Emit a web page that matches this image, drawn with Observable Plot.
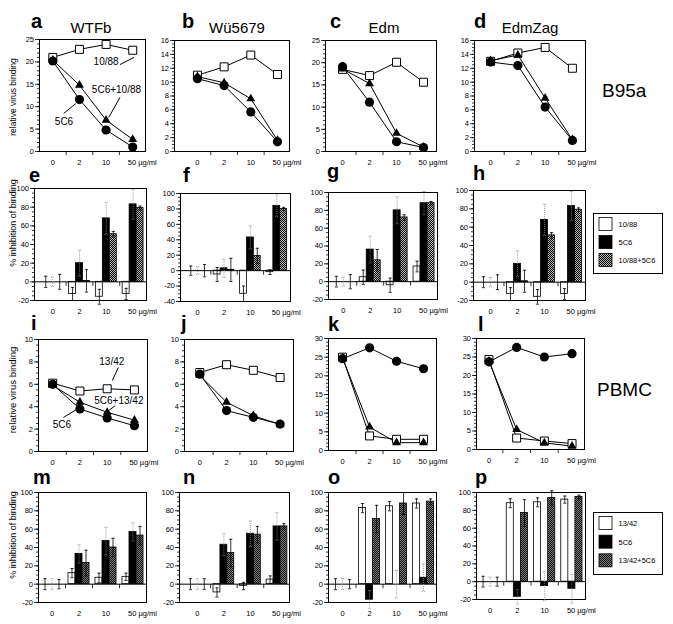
<!DOCTYPE html>
<html><head><meta charset="utf-8">
<script src="https://cdn.jsdelivr.net/npm/d3@7"></script>
<script src="https://cdn.jsdelivr.net/npm/@observablehq/plot@0.6"></script>
<style>
body{margin:0;background:#fff;font-family:"Liberation Sans",Arial,sans-serif;}
#fig{position:relative;width:673px;height:624px;overflow:hidden;background:#fff;}
</style></head><body>
<svg width="0" height="0" style="position:absolute">
<defs>
<pattern id="hatch1" width="2" height="2" patternUnits="userSpaceOnUse">
<rect width="2" height="2" fill="#b8b8b8"/><rect width="1" height="1" fill="#000"/><rect x="1" y="1" width="1" height="1" fill="#000"/>
</pattern>
<pattern id="hatch2" width="2" height="2" patternUnits="userSpaceOnUse">
<rect width="2" height="2" fill="#7a7a7a"/><rect width="1" height="1" fill="#151515"/><rect x="1" y="1" width="1" height="1" fill="#151515"/>
</pattern>
</defs></svg>
<div id="fig"></div>
<script>
// ---------- categories ----------
const doses = ["0", "2", "10", "50"];
const unit = " µg/ml";
const legend1Labels = ["10/88", "5C6", "10/88+5C6"];
const legend2Labels = ["13/42", "5C6", "13/42+5C6"];
const fills1 = ["white", "black", "url(#hatch1)"];
const fills2 = ["white", "black", "url(#hatch2)"];

// ---------- row 1: B95a, relative virus binding (square=10/88, circle=5C6, triangle=5C6+10/88) ----------
const a_sq = [21.0, 22.8, 23.9, 22.6], a_ci = [20.2, 11.6, 4.8, 1.0], a_tr = [20.4, 14.8, 7.0, 2.7];
const b_sq = [11.0, 12.2, 13.9, 11.1], b_ci = [10.5, 9.5, 5.7, 1.4], b_tr = [10.8, 9.9, 7.6, 1.6];
const c_sq = [18.5, 17.1, 20.1, 15.6], c_ci = [19.1, 11.1, 2.2, 0.9], c_tr = [18.6, 15.3, 4.1, 1.0];
const d_sq = [13.0, 14.2, 15.0, 12.0], d_ci = [12.9, 12.4, 6.4, 1.6], d_tr = [13.1, 13.9, 7.7, 1.7];

// ---------- row 2: B95a, % inhibition (white=10/88, black=5C6, hatched=10/88+5C6) ----------
const e_w = [0, -13, -16, -13], e_we = [6, 7, 8, 6];
const e_b = [0, 20, 68, 83],    e_be = [5, 14, 17, 16];
const e_h = [0, 1, 51, 79],     e_he = [8, 12, 3, 2];
const f_w = [0, -5, -30, -2],   f_we = [6, 9, 10, 3];
const f_b = [0, 3, 43, 84],     f_be = [5, 12, 15, 14];
const f_h = [0, 1, 19, 80],     f_he = [8, 15, 10, 2];
const g_w = [0, 5, -4, 17],     g_we = [6, 8, 8, 6];
const g_b = [0, 36, 80, 88],    g_be = [5, 15, 15, 13];
const g_h = [0, 24, 72, 88],    g_he = [8, 12, 3, 2];
const h_w = [0, -13, -16, -13], h_we = [6, 7, 8, 6];
const h_b = [0, 20, 68, 83],    h_be = [5, 14, 17, 16];
const h_h = [0, 1, 51, 79],     h_he = [8, 12, 3, 2];

// ---------- row 3: PBMC, relative virus binding (square=13/42, circle=5C6, triangle=5C6+13/42) ----------
const i_sq = [6.1, 5.4, 5.6, 5.5],   i_ci = [6.0, 3.8, 3.0, 2.3],   i_tr = [5.9, 4.4, 3.5, 2.8];
const j_sq = [7.05, 7.75, 7.25, 6.6], j_ci = [6.9, 3.65, 3.05, 2.45], j_tr = [6.8, 4.4, 3.2, 2.4];
const k_sq = [25.0, 3.9, 3.0, 3.0],  k_ci = [24.6, 27.5, 23.9, 21.9], k_tr = [24.8, 6.3, 2.1, 2.1];
const l_sq = [24.3, 3.1, 2.3, 1.6],  l_ci = [23.7, 27.6, 25.0, 25.9], l_tr = [23.8, 5.4, 1.8, 0.9];

// ---------- row 4: PBMC, % inhibition (white=13/42, black=5C6, hatched=13/42+5C6) ----------
const m_w = [0, 12, 7, 8],     m_we = [6, 5, 5, 4];
const m_b = [0, 33, 47, 57],   m_be = [6, 10, 15, 10];
const m_h = [0, 23, 40, 53],   m_he = [5, 14, 10, 10];
const n_w = [0, -9, -2, 5],    n_we = [6, 5, 4, 4];
const n_b = [0, 43, 55, 63],   n_be = [6, 12, 14, 15];
const n_h = [0, 34, 54, 63],   n_he = [6, 15, 9, 3];
const o_w = [0, 83, 85, 88],   o_we = [6, 5, 5, 5];
const o_b = [0, -17, 0, 7],    o_be = [6, 10, 15, 15];
const o_h = [0, 71, 88, 90],   o_he = [5, 15, 12, 3];
const p_w = [0, 88, 89, 92],   p_we = [6, 5, 5, 4];
const p_b = [0, -17, -5, -8],  p_be = [5, 8, 16, 16];
const p_h = [0, 77, 94, 95],   p_he = [5, 15, 8, 2];

// ---------- in-panel series labels ----------
const aNotes = [
  {text: "10/88", x: 2.0, y: 20.1, x1: 2.52, y1: 19.4, x2: 3.05, y2: 21.0},
  {text: "5C6+10/88", x: 2.39, y: 13.8, x1: 2.52, y1: 12.05, x2: 2.1, y2: 7.6},
  {text: "5C6", x: 0.42, y: 6.7, x1: 0.41, y1: 8.5, x2: 0.86, y2: 10.7}
];
const iNotes = [
  {text: "13/42", x: 2.17, y: 8.04, x1: 2.41, y1: 7.5, x2: 2.19, y2: 6.34},
  {text: "5C6+13/42", x: 2.43, y: 4.55, x1: 2.3, y1: 4.1, x2: 1.97, y2: 3.5},
  {text: "5C6", x: 0.34, y: 2.4, x1: 0.40, y1: 3.04, x2: 0.87, y2: 3.75}
];

// ---------- drawing ----------
const FONT = '"Liberation Sans", Arial, sans-serif';
const fig = document.getElementById("fig");
const bounds = [0.5, 1.5, 2.5];
const M = {l: 28, r: 18, t: 5, b: 22};
const vtick = {draw(ctx) { ctx.moveTo(0, 0); ctx.lineTo(0, 4); }};

function place(svg, left, top) {
  svg.style.position = "absolute";
  svg.style.left = left + "px";
  svg.style.top = top + "px";
  fig.appendChild(svg);
}
function baseOpts(p, xAxisNull) {
  const [l, t, r, b] = p.frame;
  return {
    width: r - l + M.l + M.r,
    height: b - t + M.t + M.b,
    marginLeft: M.l, marginRight: M.r, marginTop: M.t, marginBottom: M.b,
    style: {background: "transparent", overflow: "visible", fontFamily: FONT, fontSize: "7.5px", maxWidth: "none", color: "black"},
    x: xAxisNull ? {type: "linear", domain: p.xdom, label: null, axis: null} : {type: "linear", domain: p.xdom, label: null},
    y: {type: "linear", domain: p.ydom, label: null}
  };
}
function yAxes(p) {
  return [
    Plot.axisY({ticks: d3.range(p.ydom[0], p.ydom[1] + 1e-9, p.minor), tickSize: 2, tickFormat: () => "", strokeWidth: 0.8}),
    Plot.axisY({ticks: p.major, tickSize: 4, tickPadding: 1.5, tickFormat: d => String(d), strokeWidth: 0.8})
  ];
}
function doseLabels(p) {
  return [
    Plot.text(doses, {x: (d, i) => i, y: () => p.ydom[0], dy: 11, filter: (d, i) => i < 3, text: d => d}),
    Plot.text(doses, {x: (d, i) => i, y: () => p.ydom[0], dy: 11, filter: (d, i) => i === 3, text: d => d + unit, textAnchor: "start", dx: -5})
  ];
}
function linePanel(p) {
  const rows = vals => vals.map((v, i) => ({i, v}));
  const sq = rows(p.sq), ci = rows(p.ci), tr = rows(p.tr);
  const marks = [
    ...yAxes(p),
    Plot.axisX({ticks: bounds, tickSize: 4, tickFormat: () => "", strokeWidth: 0.8}),
    Plot.frame({stroke: "black", strokeWidth: 1}),
    Plot.line(sq, {x: "i", y: "v", stroke: "black", strokeWidth: 1}),
    Plot.line(tr, {x: "i", y: "v", stroke: "black", strokeWidth: 1}),
    Plot.line(ci, {x: "i", y: "v", stroke: "black", strokeWidth: 1}),
    Plot.dot(sq, {x: "i", y: "v", symbol: "square", r: 4.5, fill: "white", stroke: "black", strokeWidth: 1}),
    Plot.dot(tr, {x: "i", y: "v", symbol: "triangle", r: 3.3, fill: "black"}),
    Plot.dot(ci, {x: "i", y: "v", symbol: "circle", r: 4.6, fill: "black"}),
    ...doseLabels(p)
  ];
  if (p.notes) {
    marks.push(Plot.text(p.notes, {x: "x", y: "y", text: "text", fontSize: 10}));
    marks.push(Plot.link(p.notes, {x1: "x1", y1: "y1", x2: "x2", y2: "y2", stroke: "black", strokeWidth: 1}));
  }
  place(Plot.plot({...baseOpts(p, false), marks}), p.frame[0] - M.l, p.frame[1] - M.t);
}
function barPanel(p) {
  const bw = 0.26;
  const rows = (vals, errs, k) => vals.map((v, i) => ({i, k, v, e: errs[i], c: i + (k - 1) * bw}));
  const S = [rows(p.w, p.we, 0), rows(p.b, p.be, 1), rows(p.h, p.he, 2)];
  const marks = [
    ...yAxes(p),
    Plot.frame({stroke: "black", strokeWidth: 1})
  ];
  S.forEach((s, k) => {
    marks.push(Plot.rectY(s, {x1: d => d.c - bw / 2, x2: d => d.c + bw / 2, y1: () => 0, y2: "v", fill: p.fills[k], stroke: "black", strokeWidth: 0.8}));
  });
  marks.push(Plot.ruleY([0], {stroke: "black", strokeWidth: 1}));
  marks.push(Plot.dot(bounds, {x: d => d, y: () => 0, symbol: vtick, stroke: "black", fill: "none", strokeWidth: 0.8}));
  S.forEach((s, k) => {
    const st = k === 1 ? {stroke: "#8a8a8a", strokeDasharray: "1,1"} : {stroke: "black"};
    marks.push(Plot.ruleX(s, {x: "c", y1: d => d.v - d.e, y2: d => d.v + d.e, strokeWidth: 0.8, ...st}));
    marks.push(Plot.link(s, {x1: d => d.c - 0.06, x2: d => d.c + 0.06, y1: d => d.v + d.e, y2: d => d.v + d.e, strokeWidth: 0.8, ...st}));
    marks.push(Plot.link(s, {x1: d => d.c - 0.06, x2: d => d.c + 0.06, y1: d => d.v - d.e, y2: d => d.v - d.e, strokeWidth: 0.8, ...st}));
  });
  marks.push(...doseLabels(p));
  place(Plot.plot({...baseOpts(p, true), marks}), p.frame[0] - M.l, p.frame[1] - M.t);
}

const bin = [-20, 0, 20, 40, 60, 80, 100];
linePanel({frame: [39, 39, 145, 151], xdom: [-0.5, 3.48], ydom: [0, 25], major: [0, 5, 10, 15, 20, 25], minor: 1, sq: a_sq, ci: a_ci, tr: a_tr, notes: aNotes});
linePanel({frame: [174, 40, 289, 151], xdom: [-0.86, 3.45], ydom: [0, 16], major: [0, 2, 4, 6, 8, 10, 12, 14, 16], minor: 0.5, sq: b_sq, ci: b_ci, tr: b_tr});
linePanel({frame: [325, 40, 436, 151], xdom: [-0.63, 3.48], ydom: [0, 25], major: [0, 5, 10, 15, 20, 25], minor: 1, sq: c_sq, ci: c_ci, tr: c_tr});
linePanel({frame: [474, 40, 585, 151], xdom: [-0.59, 3.48], ydom: [0, 16], major: [0, 2, 4, 6, 8, 10, 12, 14, 16], minor: 0.5, sq: d_sq, ci: d_ci, tr: d_tr});

barPanel({frame: [34, 188, 146, 300], xdom: [-0.68, 3.5], ydom: [-20, 100], major: bin, minor: 5, fills: fills1, w: e_w, we: e_we, b: e_b, be: e_be, h: e_h, he: e_he});
barPanel({frame: [180, 193, 290, 301], xdom: [-0.65, 3.52], ydom: [-40, 100], major: [-40, ...bin], minor: 5, fills: fills1, w: f_w, we: f_we, b: f_b, be: f_be, h: f_h, he: f_he});
barPanel({frame: [328, 192, 437, 299], xdom: [-0.55, 3.5], ydom: [-20, 100], major: bin, minor: 5, fills: fills1, w: g_w, we: g_we, b: g_b, be: g_be, h: g_h, he: g_he});
barPanel({frame: [473, 190, 585, 300], xdom: [-0.63, 3.52], ydom: [-20, 100], major: bin, minor: 5, fills: fills1, w: h_w, we: h_we, b: h_b, be: h_be, h: h_h, he: h_he});

linePanel({frame: [38, 339, 147, 451], xdom: [-0.52, 3.48], ydom: [0, 10], major: [0, 2, 4, 6, 8, 10], minor: 0.5, sq: i_sq, ci: i_ci, tr: i_tr, notes: iNotes});
linePanel({frame: [184, 339, 293, 451], xdom: [-0.57, 3.5], ydom: [0, 10], major: [0, 2, 4, 6, 8, 10], minor: 0.5, sq: j_sq, ci: j_ci, tr: j_tr});
linePanel({frame: [328, 338, 436, 450], xdom: [-0.52, 3.48], ydom: [0, 30], major: [0, 5, 10, 15, 20, 25, 30], minor: 1, sq: k_sq, ci: k_ci, tr: k_tr});
linePanel({frame: [476, 338, 584, 449], xdom: [-0.45, 3.45], ydom: [0, 30], major: [0, 5, 10, 15, 20, 25, 30], minor: 1, sq: l_sq, ci: l_ci, tr: l_tr});

barPanel({frame: [38, 492, 146, 602], xdom: [-0.5, 3.5], ydom: [-20, 100], major: bin, minor: 5, fills: fills2, w: m_w, we: m_we, b: m_b, be: m_be, h: m_h, he: m_he});
barPanel({frame: [179, 492, 289, 602], xdom: [-0.67, 3.47], ydom: [-20, 100], major: bin, minor: 5, fills: fills2, w: n_w, we: n_we, b: n_b, be: n_be, h: n_h, he: n_he});
barPanel({frame: [328, 492, 436, 602], xdom: [-0.52, 3.48], ydom: [-20, 100], major: bin, minor: 5, fills: fills2, w: o_w, we: o_we, b: o_b, be: o_be, h: o_h, he: o_he});
barPanel({frame: [476, 492, 585, 599], xdom: [-0.5, 3.5], ydom: [-20, 100], major: bin, minor: 5, fills: fills2, w: p_w, we: p_we, b: p_b, be: p_be, h: p_h, he: p_he});

// ---------- overlay text: panel letters, titles, row labels, axis titles, legends ----------
const letters = [
  ["a", 31, 28], ["b", 182, 28], ["c", 330, 28], ["d", 474, 28],
  ["e", 29, 182], ["f", 183, 182], ["g", 327, 178], ["h", 473, 180],
  ["i", 31, 330], ["j", 181, 330], ["k", 328, 331], ["l", 478, 331],
  ["m", 33, 484], ["n", 183, 484], ["o", 328, 484], ["p", 475, 484]
];
const titles = [["WTFb", 91], ["Wü5679", 237], ["Edm", 384], ["EdmZag", 530]];
let o = `<svg width="673" height="624" style="position:absolute;left:0;top:0;pointer-events:none" font-family='${FONT}'>`;
for (const [t, x, y] of letters) o += `<text x="${x}" y="${y}" font-size="20" font-weight="bold">${t}</text>`;
for (const [t, x] of titles) o += `<text x="${x}" y="33" font-size="15" text-anchor="middle">${t}</text>`;
o += `<text x="602" y="97" font-size="19">B95a</text>`;
o += `<text x="597" y="396" font-size="19">PBMC</text>`;
o += `<text transform="translate(16,97) rotate(-90)" font-size="8.5" text-anchor="middle">relative virus binding</text>`;
o += `<text transform="translate(16,390) rotate(-90)" font-size="9.5" text-anchor="middle">relative virus binding</text>`;
o += `<text transform="translate(16,223) rotate(-90)" font-size="9" text-anchor="middle">% inhibition of binding</text>`;
o += `<text transform="translate(16,535) rotate(-90)" font-size="9" text-anchor="middle">% inhibition of binding</text>`;
function legend(labels, fills, x, y, h) {
  let s = `<rect x="${x}" y="${y}" width="69" height="${h}" fill="white" stroke="black" stroke-width="1"/>`;
  const step = (h - 6) / 3;
  labels.forEach((lab, k) => {
    const ry = y + 4 + k * step;
    s += `<rect x="${x + 5.5}" y="${ry}" width="13" height="13" fill="${fills[k]}" stroke="black" stroke-width="0.8"/>`;
    s += `<text x="${x + 25}" y="${ry + 9.5}" font-size="7.5">${lab}</text>`;
  });
  return s;
}
o += legend(legend1Labels, fills1, 593.5, 213.5, 60);
o += legend(legend2Labels, fills2, 593.5, 512.5, 62);
o += `</svg>`;
fig.insertAdjacentHTML("beforeend", o);
</script>
</body></html>
